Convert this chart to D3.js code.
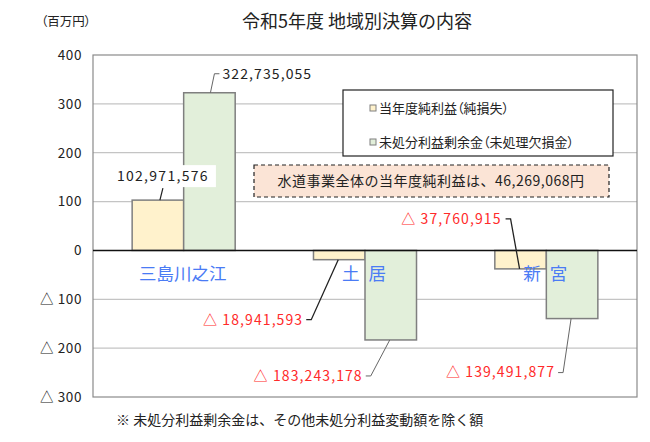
<!DOCTYPE html>
<html>
<head>
<meta charset="utf-8">
<script src="https://cdn.jsdelivr.net/npm/d3@7"></script>
<style>
  body { margin: 0; background: #fff; }
  svg { font-family: "Noto Sans CJK JP", "Noto Sans", sans-serif; }
  .palt { font-feature-settings: "palt"; }
</style>
</head>
<body>
<div class="canvas"></div>
<script>
// data (yen)
const categories = ['三島川之江', '土 居', '新 宮'];
const profit = [102971576, -18941593, -37760915];   // 当年度純利益(純損失)
const surplus = [322735055, -183243178, -139491877]; // 未処分利益剰余金(未処理欠損金)
const seriesNames = ['当年度純利益（純損失）', '未処分利益剰余金（未処理欠損金）'];
const yTicks = [400, 300, 200, 100, 0, -100, -200, -300];
const totalNote = '水道事業全体の当年度純利益は、46,269,068円';

// label leader layout, relative to bar centre / bar end: [bendDx, bendDy, textDx]
const leaderLayout = [
  [[5, -12, 0], [5, -19, 13]],
  [[-28, 60, -36], [-20, 36, -28]],
  [[-10, -50, -19], [-9, 54, -17]]
];

const width = 650, height = 442;
const margin = { top: 55, right: 13, bottom: 45, left: 93 };
const colors = ['#fff2cc', '#e2efda'];

const svg = d3.select('.canvas')
  .append('svg')
  .attr('width', width)
  .attr('height', height);

const y = d3.scaleLinear()
  .domain([-300, 400])
  .range([height - margin.bottom, margin.top]);

const x = d3.scaleBand()
  .domain(categories)
  .range([margin.left, width - margin.right]);

const xSub = d3.scaleBand()
  .domain([0, 1])
  .range([0, x.bandwidth()])
  .paddingInner(0)
  .paddingOuter(0.76);

const toM = v => v / 1e6;

// gridlines
svg.append('g')
  .selectAll('line')
  .data(yTicks.filter(t => t !== 0 && t !== 400 && t !== -300))
  .enter().append('line')
  .attr('x1', margin.left).attr('x2', width - margin.right)
  .attr('y1', d => y(d)).attr('y2', d => y(d))
  .attr('stroke', '#c4c4c4').attr('stroke-width', 1.2);

// plot border
svg.append('rect')
  .attr('x', margin.left).attr('y', y(400))
  .attr('width', width - margin.right - margin.left)
  .attr('height', y(-300) - y(400))
  .attr('fill', 'none').attr('stroke', '#8a8a8a').attr('stroke-width', 1.2);

// y axis labels
const yAxis = d3.axisLeft(y)
  .tickValues(yTicks)
  .tickSize(0)
  .tickPadding(11)
  .tickFormat(d => d < 0 ? '△ ' + (-d) : d);
svg.append('g')
  .attr('transform', `translate(${margin.left},0)`)
  .call(yAxis)
  .call(g => g.select('.domain').remove())
  .selectAll('text')
  .attr('font-size', 13.5)
  .attr('letter-spacing', 0.6)
  .attr('fill', '#222')
  .attr('font-family', '"Noto Sans CJK JP", sans-serif');

// bars
const barData = [];
categories.forEach((c, i) => {
  [profit[i], surplus[i]].forEach((v, s) => barData.push({ cat: c, i, s, v }));
});

svg.append('g')
  .selectAll('rect')
  .data(barData)
  .enter().append('rect')
  .attr('x', d => x(d.cat) + xSub(d.s))
  .attr('width', xSub.bandwidth())
  .attr('y', d => y(Math.max(0, toM(d.v))))
  .attr('height', d => Math.abs(y(toM(d.v)) - y(0)))
  .attr('fill', d => colors[d.s])
  .attr('stroke', '#7f7f7f')
  .attr('stroke-width', 1.5);

// zero line
svg.append('line')
  .attr('x1', margin.left).attr('x2', width - margin.right)
  .attr('y1', y(0)).attr('y2', y(0))
  .attr('stroke', '#111').attr('stroke-width', 1.5);

// category labels
svg.append('g')
  .selectAll('text')
  .data(categories)
  .enter().append('text')
  .attr('x', d => x(d) + x.bandwidth() / 2 - 1)
  .attr('y', y(0) + 23)
  .attr('dy', '0.35em')
  .attr('text-anchor', 'middle')
  .attr('font-size', 17.5)
  .attr('word-spacing', 5)
  .style('white-space', 'pre')
  .attr('fill', '#4a7bf5')
  .text(d => d);

// value labels with leader lines
const fmt = d3.format(',');
const labelG = svg.append('g');
barData.forEach(d => {
  const cx = x(d.cat) + xSub(d.s) + xSub.bandwidth() / 2;
  const endY = y(toM(d.v));
  const [bdx, bdy, tdx] = leaderLayout[d.i][d.s];
  const bx = cx + bdx, by = endY + bdy;
  const neg = d.v < 0;
  const txt = (neg ? '△ ' : '') + fmt(Math.abs(d.v));
  const lineColor = d.s === 0 ? '#222' : '#666';

  if (d.i === 0 && d.s === 0) {
    // label sits on a white box above the bar
    labelG.append('line')
      .attr('x1', cx + 2).attr('y1', endY)
      .attr('x2', bx).attr('y2', by)
      .attr('stroke', lineColor).attr('stroke-width', 1.2);
    labelG.append('rect')
      .attr('x', bx - 50).attr('y', by - 23)
      .attr('width', 103).attr('height', 22)
      .attr('fill', '#fff');
    labelG.append('text')
      .attr('x', bx).attr('y', by - 12)
      .attr('dy', '0.35em')
      .attr('text-anchor', 'middle')
      .attr('font-size', 14)
      .attr('letter-spacing', 1.3)
      .attr('fill', '#222')
      .text(txt);
    return;
  }
  const hx = neg ? bx - 5 : bx + 5;
  labelG.append('polyline')
    .attr('points', `${cx - (neg ? 1 : -1)},${endY} ${bx},${by} ${hx},${by}`)
    .attr('fill', 'none')
    .attr('stroke', lineColor).attr('stroke-width', d.s === 0 ? 1.3 : 1);
  labelG.append('text')
    .attr('x', cx + tdx)
    .attr('y', by)
    .attr('dy', '0.35em')
    .attr('text-anchor', neg ? 'end' : 'start')
    .attr('font-size', 14)
    .attr('letter-spacing', 1.1)
    .attr('fill', neg ? '#ff2a2a' : '#222')
    .text(txt);
});

// legend
const legend = svg.append('g');
legend.append('rect')
  .attr('x', 343).attr('y', 90)
  .attr('width', 270).attr('height', 66)
  .attr('fill', '#fff').attr('stroke', '#222').attr('stroke-width', 1.2);
seriesNames.forEach((n, s) => {
  const ly = 108 + s * 34;
  legend.append('rect')
    .attr('x', 370).attr('y', ly - 3)
    .attr('width', 6).attr('height', 6)
    .attr('fill', colors[s]).attr('stroke', '#7f7f7f').attr('stroke-width', 1);
  legend.append('text')
    .attr('class', 'palt')
    .attr('x', 379).attr('y', ly)
    .attr('dy', '0.35em')
    .attr('font-size', 13)
    .attr('fill', '#222')
    .text(n);
});

// total note box
svg.append('rect')
  .attr('x', 254).attr('y', 165)
  .attr('width', 355).attr('height', 32)
  .attr('fill', '#fbe4d6')
  .attr('stroke', '#222').attr('stroke-width', 1.2)
  .attr('stroke-dasharray', '4,3');
svg.append('text')
  .attr('x', 431).attr('y', 181)
  .attr('dy', '0.35em')
  .attr('text-anchor', 'middle')
  .attr('font-size', 14)
  .attr('letter-spacing', 0.5)
  .attr('fill', '#222')
  .text(totalNote);

// title and unit
svg.append('text')
  .attr('x', 357).attr('y', 22)
  .attr('dy', '0.35em')
  .attr('text-anchor', 'middle')
  .attr('font-size', 18)
  .attr('fill', '#222')
  .text('令和5年度 地域別決算の内容');
svg.append('text')
  .attr('class', 'palt')
  .attr('x', 66).attr('y', 22)
  .attr('dy', '0.35em')
  .attr('text-anchor', 'middle')
  .attr('font-size', 12.5)
  .attr('fill', '#222')
  .text('（百万円）');

// footnote
svg.append('text')
  .attr('x', 116).attr('y', 420)
  .attr('dy', '0.35em')
  .attr('font-size', 14)
  .attr('fill', '#222')
  .text('※ 未処分利益剰余金は、その他未処分利益変動額を除く額');
</script>
</body>
</html>
